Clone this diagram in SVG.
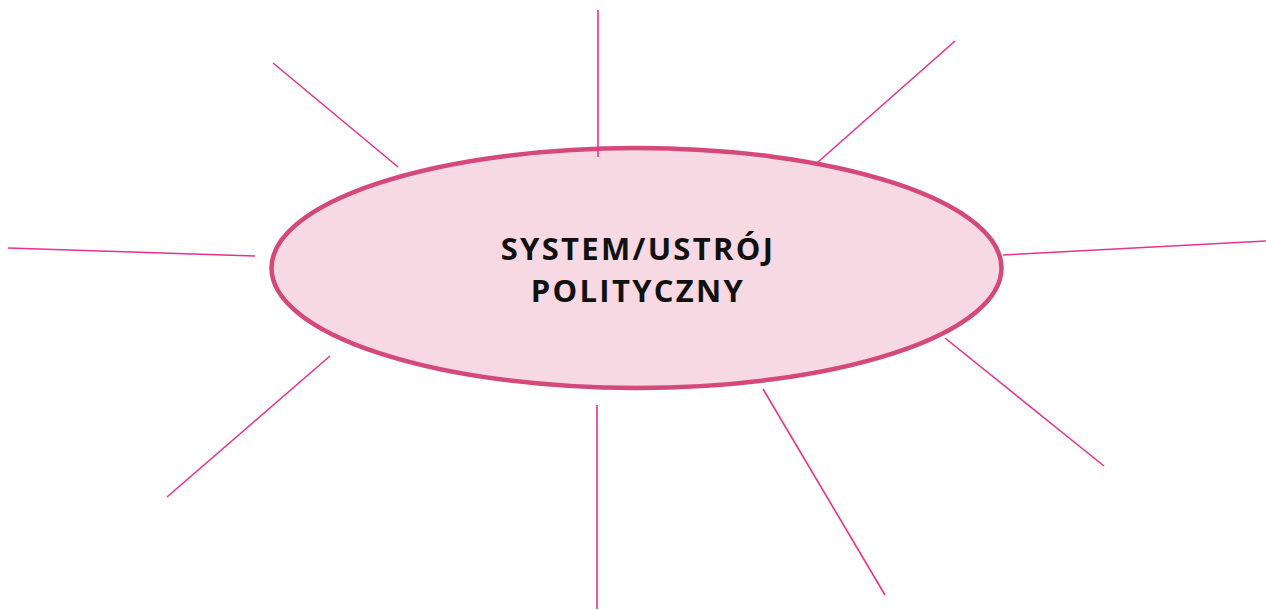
<svg xmlns="http://www.w3.org/2000/svg" width="1266" height="610" viewBox="0 0 1266 610">
<style>
.ray{stroke:#e6338f;stroke-width:1.6;fill:none}
.node{fill:#f7d9e3;stroke:#d4487a;stroke-width:4.5}
.lbl{font-family:"Open Sans","DejaVu Sans",sans-serif;font-weight:700;font-size:31px;fill:#111;text-anchor:middle;letter-spacing:2.3px}
</style>
<rect width="1266" height="610" fill="#ffffff"/>
<g id="center">
<ellipse class="node" cx="636.5" cy="268" rx="365" ry="120"/>
<text class="lbl" x="638" y="260">SYSTEM/USTRÓJ</text>
<text class="lbl" x="638" y="302">POLITYCZNY</text>
</g>
<g id="connectors">
<line class="ray" x1="598" y1="10" x2="598" y2="157"/>
<line class="ray" x1="273" y1="63" x2="398" y2="167"/>
<line class="ray" x1="955" y1="41" x2="818" y2="162"/>
<line class="ray" x1="8" y1="248" x2="255" y2="256"/>
<line class="ray" x1="1003" y1="255" x2="1266" y2="241"/>
<line class="ray" x1="330" y1="356" x2="167" y2="497"/>
<line class="ray" x1="945" y1="338" x2="1104" y2="466"/>
<line class="ray" x1="597" y1="405" x2="597" y2="609"/>
<line class="ray" x1="763" y1="389" x2="885" y2="595"/>
</g>
</svg>
